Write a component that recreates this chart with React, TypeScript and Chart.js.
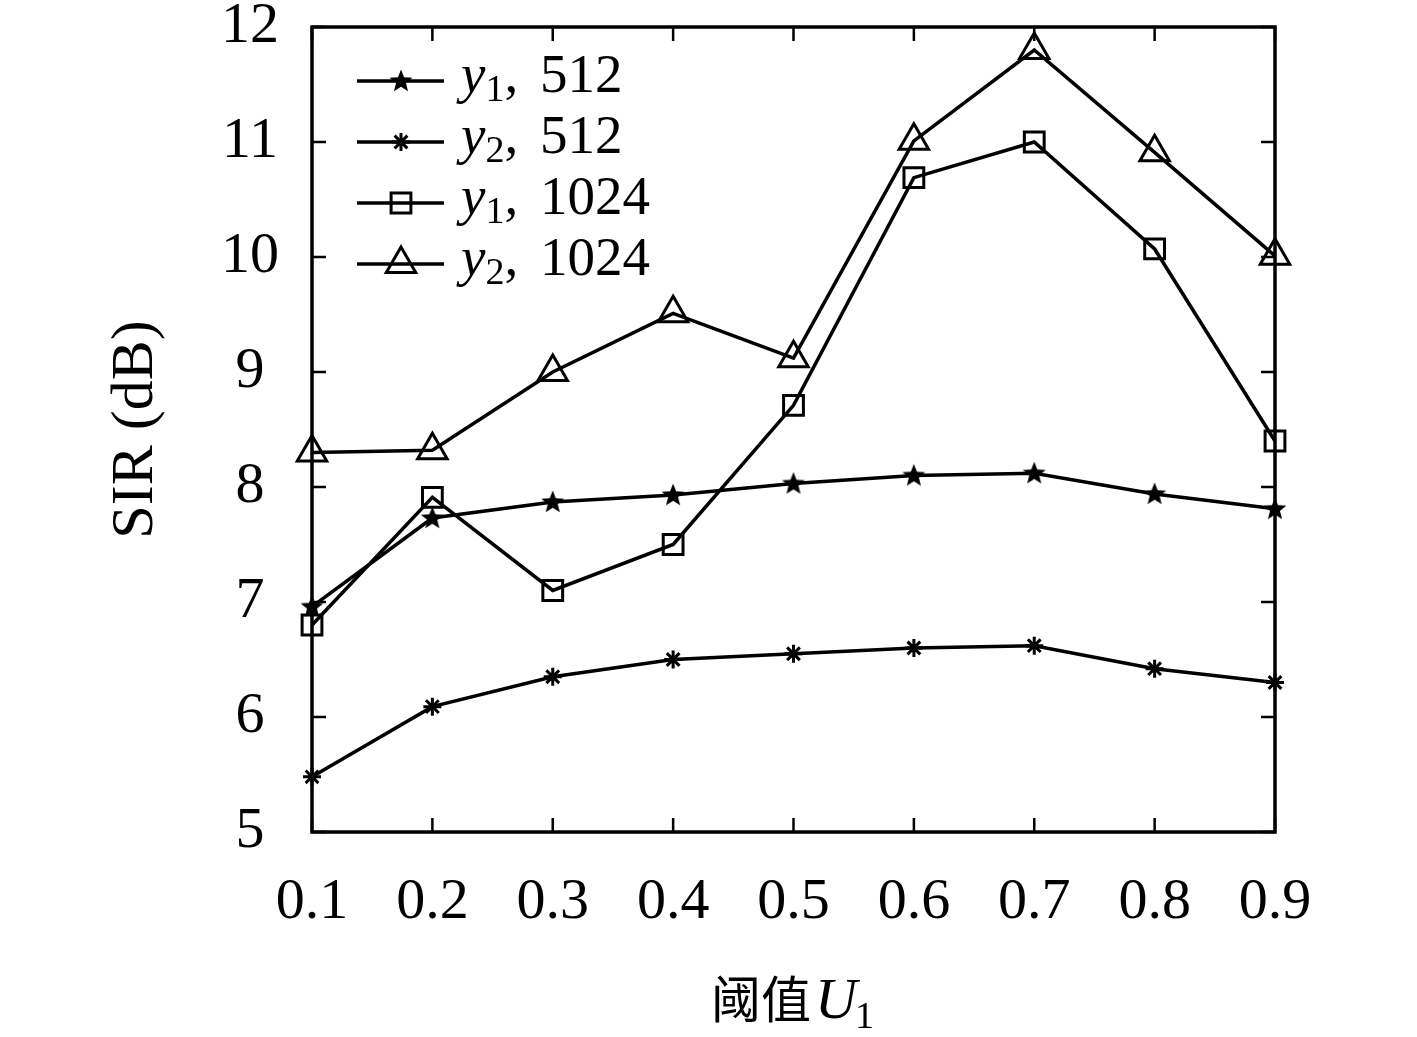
import { useEffect, useRef } from 'react'
import { Chart, registerables } from 'chart.js'
import { drawPoint } from 'chart.js/helpers'

Chart.register(...registerables)

// threshold U1 on the x axis
const thresholds = ['0.1', '0.2', '0.3', '0.4', '0.5', '0.6', '0.7', '0.8', '0.9']

// SIR (dB) per series
const y1_512 = [6.96, 7.73, 7.87, 7.93, 8.03, 8.1, 8.12, 7.94, 7.81]
const y2_512 = [5.48, 6.09, 6.35, 6.5, 6.55, 6.6, 6.62, 6.42, 6.3]
const y1_1024 = [6.8, 7.91, 7.1, 7.5, 8.71, 10.69, 11.0, 10.07, 8.4]
const y2_1024 = [8.3, 8.32, 9.0, 9.51, 9.12, 11.01, 11.8, 10.91, 10.01]

const legendSub = ['1', '2', '1', '2']
const legendN = ['512', '512', '1024', '1024']

const SERIF = '"Liberation Serif", "DejaVu Serif", serif'
const CJK = '"Noto Sans CJK SC", sans-serif'

function makeStar() {
  const c = document.createElement('canvas')
  c.width = 26
  c.height = 26
  const ctx = c.getContext('2d')!
  ctx.beginPath()
  for (let i = 0; i < 10; i++) {
    const r = i % 2 === 0 ? 12 : 5.2
    const a = -Math.PI / 2 + (i * Math.PI) / 5
    const px = 13 + r * Math.cos(a)
    const py = 13.5 + r * Math.sin(a)
    if (i === 0) ctx.moveTo(px, py)
    else ctx.lineTo(px, py)
  }
  ctx.closePath()
  ctx.fillStyle = '#000'
  ctx.fill()
  return c
}

// box round the plot, inward ticks on all four sides, legend and x title
const framePlugin = {
  id: 'frame',
  afterDraw(chart: any) {
    const { ctx, chartArea: a, scales } = chart
    const x = scales.x
    const y = scales.y
    const tl = 14
    ctx.save()
    ctx.strokeStyle = '#000'
    ctx.lineWidth = 3.5
    ctx.strokeRect(a.left, a.top, a.right - a.left, a.bottom - a.top)
    ctx.lineWidth = 2.5
    ctx.beginPath()
    x.ticks.forEach((_t: any, i: number) => {
      const px = x.getPixelForTick(i)
      ctx.moveTo(px, a.bottom)
      ctx.lineTo(px, a.bottom - tl)
      ctx.moveTo(px, a.top)
      ctx.lineTo(px, a.top + tl)
    })
    y.ticks.forEach((_t: any, i: number) => {
      const py = y.getPixelForTick(i)
      ctx.moveTo(a.left, py)
      ctx.lineTo(a.left + tl, py)
      ctx.moveTo(a.right, py)
      ctx.lineTo(a.right - tl, py)
    })
    ctx.stroke()

    // legend
    chart.data.datasets.forEach((ds: any, i: number) => {
      const ly = a.top + 54 + i * 61
      const lx = a.left + 45
      ctx.strokeStyle = '#000'
      ctx.lineWidth = ds.borderWidth
      ctx.beginPath()
      ctx.moveTo(lx, ly)
      ctx.lineTo(lx + 87, ly)
      ctx.stroke()
      ctx.lineWidth = ds.pointBorderWidth
      ctx.fillStyle = ds.pointBackgroundColor
      drawPoint(ctx, { pointStyle: ds.pointStyle, radius: ds.pointRadius, rotation: 0, borderWidth: ds.pointBorderWidth }, lx + 44, ly)
      ctx.fillStyle = '#000'
      ctx.textBaseline = 'alphabetic'
      ctx.textAlign = 'left'
      let tx = lx + 104
      const base = ly + 11
      ctx.font = `italic 55px ${SERIF}`
      ctx.fillText('y', tx, base)
      tx += ctx.measureText('y').width
      ctx.font = `38px ${SERIF}`
      ctx.fillText(legendSub[i], tx, base + 9)
      tx += ctx.measureText(legendSub[i]).width
      ctx.font = `55px ${SERIF}`
      ctx.fillText(', ', tx, base)
      tx += ctx.measureText(', ').width + 8
      ctx.fillText(legendN[i], tx, base)
    })

    // x axis title: 阈值 U1
    const base = a.bottom + 186
    ctx.font = `50px ${CJK}`
    const w1 = ctx.measureText('阈值').width
    ctx.font = `italic 58px ${SERIF}`
    const w2 = ctx.measureText('U').width
    ctx.font = `38px ${SERIF}`
    const w3 = ctx.measureText('1').width
    let tx = (a.left + a.right) / 2 - (w1 + 4 + w2 + w3) / 2
    ctx.font = `50px ${CJK}`
    ctx.fillText('阈值', tx, base)
    tx += w1 + 4
    ctx.font = `italic 58px ${SERIF}`
    ctx.fillText('U', tx, base)
    tx += w2 - 2
    ctx.font = `38px ${SERIF}`
    ctx.fillText('1', tx, base + 10)
    ctx.restore()
  },
}

export default function App() {
  const canvasRef = useRef<HTMLCanvasElement>(null)
  const chartRef = useRef<Chart | null>(null)

  useEffect(() => {
    if (!canvasRef.current) return
    if (chartRef.current) chartRef.current.destroy()
    const star = makeStar()
    const line = {
      borderColor: '#000',
      borderWidth: 3.5,
      pointBorderColor: '#000',
      pointBorderWidth: 3,
      pointBackgroundColor: 'rgba(0,0,0,0)',
      fill: false,
      tension: 0,
    }

    chartRef.current = new Chart(canvasRef.current, {
      type: 'line',
      data: {
        labels: thresholds,
        datasets: [
          { ...line, label: 'y1, 512', data: y1_512, pointStyle: star as any, pointRadius: 12, pointBackgroundColor: '#000' },
          { ...line, label: 'y2, 512', data: y2_512, pointStyle: 'star', pointRadius: 9 },
          { ...line, label: 'y1, 1024', data: y1_1024, pointStyle: 'rect', pointRadius: 14, pointBorderWidth: 3 },
          { ...line, label: 'y2, 1024', data: y2_1024, pointStyle: 'triangle', pointRadius: 17, pointBorderWidth: 3 },
        ],
      },
      options: {
        responsive: true,
        maintainAspectRatio: false,
        animation: false,
        layout: { autoPadding: false, padding: { left: 0, top: 27, right: 142, bottom: 55 } },
        plugins: { legend: { display: false }, tooltip: { enabled: false } },
        scales: {
          x: {
            type: 'category',
            offset: false,
            grid: { display: false, drawTicks: false },
            border: { display: false },
            ticks: { color: '#000', font: { family: SERIF, size: 58 }, padding: 36, maxRotation: 0, autoSkip: false },
            afterFit: (s: any) => { s.height = 150; s.paddingLeft = 0; s.paddingRight = 0 },
          },
          y: {
            min: 5,
            max: 12,
            grid: { display: false, drawTicks: false },
            border: { display: false },
            ticks: { stepSize: 1, color: '#000', font: { family: SERIF, size: 58 }, padding: 33, crossAlign: 'center' },
            title: { display: true, text: 'SIR (dB)', color: '#000', font: { family: SERIF, size: 60 }, padding: { top: 100, bottom: 0 } },
            afterFit: (s: any) => { s.width = 312; s.paddingTop = 0; s.paddingBottom = 0 },
          },
        },
      },
      plugins: [framePlugin],
    })
    return () => { if (chartRef.current) chartRef.current.destroy() }
  }, [])

  return (
    <div style={{ position: 'absolute', left: 0, top: 0, width: 1417, height: 1037, background: '#fff' }}>
      <canvas ref={canvasRef} />
    </div>
  )
}
